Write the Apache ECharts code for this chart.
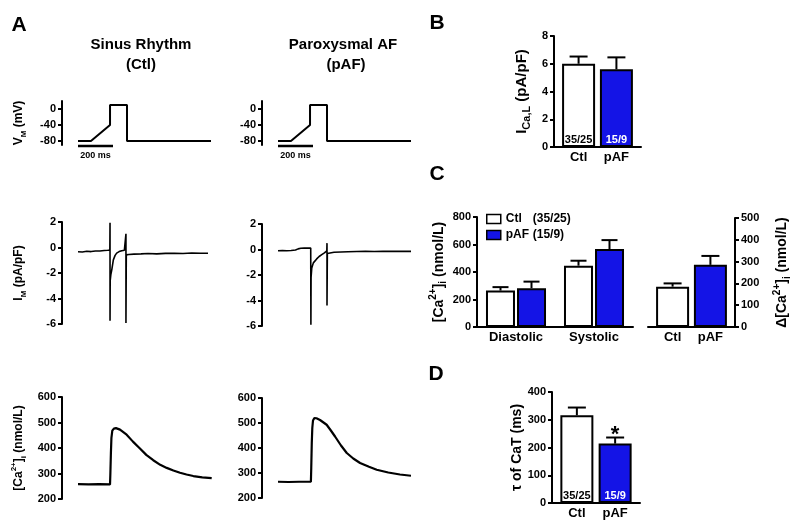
<!DOCTYPE html>
<html><head><meta charset="utf-8">
<script src="https://cdn.jsdelivr.net/npm/echarts@6/dist/echarts.min.js"></script>
<style>html,body{margin:0;padding:0;background:#fff}#c{width:800px;height:529px}</style>
</head><body><div id="c"></div>
<script>
const FONT = '"Liberation Sans", Arial, Helvetica, sans-serif';
const BLUE = '#1414e6';

// ---------- Panel A: voltage-clamp protocol (ms, mV) ----------
const protoT = [0, 74, 183, 183, 280, 280, 760];
const protoV = [-80, -80, -40, 10, 10, -80, -80];
const protoTicks = [-80, -40, 0];
const scaleBarMs = 200;

// ---------- Panel A: membrane current (ms, pA/pF) ----------
const ctlIT = [0, 25, 50, 75, 100, 125, 150, 170, 182, 183, 183, 184, 188, 193, 202, 212, 221, 235, 250, 265, 273, 274, 274, 276, 290, 320, 360, 400, 450, 500, 550, 600, 650, 700, 743];
const ctlI  = [-0.33, -0.35, -0.3, -0.32, -0.28, -0.27, -0.24, -0.22, -0.2, 1.95, -5.75, -2.6, -2.1, -1.75, -0.97, -0.62, -0.44, -0.32, -0.25, -0.21, -0.18, 1.07, -5.93, -0.58, -0.55, -0.52, -0.5, -0.47, -0.5, -0.46, -0.45, -0.47, -0.43, -0.45, -0.45];
const pafIT = [0, 25, 50, 75, 100, 115, 130, 150, 170, 187, 188, 189, 193, 202, 221, 235, 250, 265, 274, 279, 280, 280, 282, 290, 320, 360, 400, 450, 500, 550, 600, 650, 700, 760];
const pafI  = [-0.1, -0.08, -0.1, -0.08, -0.04, 0.05, 0.1, 0.12, 0.11, 0.12, -5.9, -2.2, -1.45, -1.05, -0.74, -0.55, -0.4, -0.26, -0.18, -0.1, 0.5, -4.4, -0.32, -0.28, -0.22, -0.2, -0.18, -0.16, -0.15, -0.16, -0.14, -0.15, -0.14, -0.15];

// ---------- Panel A: Ca transients (ms, nmol/L) ----------
const ctlCaT = [0, 60, 120, 183, 185, 188, 191, 196, 205, 217, 240, 278, 314, 354, 390, 430, 470, 507, 545, 583, 620, 659, 710, 764];
const ctlCa  = [258, 257, 258, 257, 300, 380, 440, 468, 476, 478, 472, 452, 425, 398, 373, 352, 334, 322, 312, 303, 296, 290, 285, 282];
const pafCaT = [0, 60, 120, 188, 190, 193, 196, 200, 208, 220, 240, 260, 278, 300, 326, 360, 393, 430, 469, 520, 564, 630, 697, 760];
const pafCa  = [265, 264, 265, 265, 320, 420, 480, 510, 520, 519, 512, 502, 493, 472, 446, 410, 380, 358, 340, 325, 313, 302, 294, 289];

// ---------- Panel B ----------
const groups = ['Ctl', 'pAF'];
const nLabels = ['35/25', '15/9'];
const icalMean = [6.0, 5.6];
const icalSem = [0.52, 0.86];

// ---------- Panel C ----------
const caPhases = ['Diastolic', 'Systolic'];
const caCtlMean = [265, 446];
const caCtlSem = [25, 36];
const caPafMean = [282, 567];
const caPafSem = [48, 65];
const dCaMean = [185, 285];
const dCaSem = [15, 41];

// ---------- Panel D ----------
const tauMean = [316, 214];
const tauSem = [28, 22];
const tauSig = ['', '*'];

// ---------- helpers ----------
const zip = (a, b) => a.map((v, i) => [v, b[i]]);
const rich = (size) => ({
  a: {fontSize: size, fontWeight: 'bold', fontFamily: FONT, color: '#000', lineHeight: size + 6},
  sub: {fontSize: Math.round(size * 0.7), fontWeight: 'bold', fontFamily: FONT, color: '#000', lineHeight: Math.round(size * 0.7) + 1, verticalAlign: 'bottom'},
  sup: {fontSize: Math.round(size * 0.7), fontWeight: 'bold', fontFamily: FONT, color: '#000', lineHeight: Math.round(size * 0.7) + 1, verticalAlign: 'top'}
});
const lbl = (size, extra) => Object.assign({color: '#000', fontFamily: FONT, fontWeight: 'bold', fontSize: size}, extra || {});

function yAx(gi, min, max, opts) {
  opts = opts || {};
  const ax = {
    gridIndex: gi, type: 'value', min: min, max: max,
    axisLine: {show: true, onZero: false, lineStyle: {color: '#000', width: 2}},
    axisTick: Object.assign({show: true, length: 4, lineStyle: {color: '#000', width: 2}}, opts.tick || {}),
    axisLabel: lbl(11, Object.assign({margin: 6}, opts.label || {})),
    splitLine: {show: false}
  };
  ['interval', 'offset', 'position', 'name', 'nameGap'].forEach(k => { if (opts[k] !== undefined) ax[k] = opts[k]; });
  if (opts.name) {
    ax.nameLocation = 'middle';
    ax.nameRotate = 90;
    ax.nameTextStyle = {rich: rich(opts.nameSize || 14)};
  }
  return ax;
}
const xHidden = gi => ({gridIndex: gi, type: 'value', min: 0, max: 800, show: false});
const xBars = gi => ({
  gridIndex: gi, type: 'value', min: 0.35, max: 2.65,
  axisLine: {show: true, onZero: false, lineStyle: {color: '#000', width: 2}},
  axisTick: {show: false}, splitLine: {show: false},
  axisLabel: lbl(13, {margin: 4, customValues: [1, 2], formatter: v => groups[Math.round(v) - 1]})
});
const trace = (gi, data, w) => ({
  type: 'line', xAxisIndex: gi, yAxisIndex: gi, data: data, symbol: 'none', silent: true,
  lineStyle: {color: '#000', width: w}, z: 3
});
function errSeries(gi, pts, offsetPx, capHalf, sig) {
  return {
    type: 'custom', xAxisIndex: gi, yAxisIndex: gi, data: pts, z: 4, silent: true,
    encode: {x: 0, y: 1},
    renderItem: (params, api) => {
      const x = api.value(0), m = api.value(1), e = api.value(2);
      const base = api.coord([x, m]);
      const top = api.coord([x, m + e]);
      const cx = base[0] + offsetPx;
      const children = [
        {type: 'line', shape: {x1: cx, y1: base[1], x2: cx, y2: top[1]}, style: {stroke: '#000', lineWidth: 2}},
        {type: 'line', shape: {x1: cx - capHalf, y1: top[1], x2: cx + capHalf, y2: top[1]}, style: {stroke: '#000', lineWidth: 2}}
      ];
      const s = sig && sig[params.dataIndex];
      if (s) children.push({type: 'text', style: {text: s, x: cx, y: top[1] - 3, align: 'center', verticalAlign: 'middle', font: 'bold 22px ' + FONT, fill: '#000'}});
      return {type: 'group', children: children};
    }
  };
}
function pairBars(gi, means) {
  return {
    type: 'bar', xAxisIndex: gi, yAxisIndex: gi, barWidth: 33, silent: true,
    data: means.map((v, i) => ({value: [i + 1, v], itemStyle: {color: i ? BLUE : '#fff'}, label: {color: i ? '#fff' : '#000'}})),
    itemStyle: {borderColor: '#000', borderWidth: 2}
  };
}
const nLabel = {show: true, position: 'insideBottom', distance: 2, formatter: p => nLabels[p.dataIndex], fontFamily: FONT, fontWeight: 'bold', fontSize: 11};

const grids = [
  {left: 78, top: 101, width: 140, height: 44},
  {left: 278, top: 101, width: 140, height: 44},
  {left: 78, top: 222, width: 140, height: 102},
  {left: 278, top: 224, width: 140, height: 102},
  {left: 78, top: 397, width: 140, height: 102},
  {left: 278, top: 398, width: 140, height: 100},
  {left: 554, top: 36, width: 87, height: 111},
  {left: 477, top: 217, width: 156, height: 110},
  {left: 648, top: 218, width: 87, height: 109},
  {left: 552, top: 392, width: 88, height: 111}
].map(g => Object.assign({outerBoundsMode: 'none', containLabel: false}, g));

const legendN = {Ctl: '(35/25)', pAF: '(15/9)'};

const option = {
  animation: false,
  backgroundColor: '#fff',
  grid: grids,
  xAxis: [
    xHidden(0), xHidden(1), xHidden(2), xHidden(3), xHidden(4), xHidden(5),
    xBars(6),
    {gridIndex: 7, type: 'category', data: caPhases,
     axisLine: {show: true, onZero: false, lineStyle: {color: '#000', width: 2}},
     axisTick: {show: false}, splitLine: {show: false}, axisLabel: lbl(13, {margin: 4})},
    xBars(8),
    xBars(9)
  ],
  yAxis: [
    yAx(0, -90, 20, {offset: 16, tick: {customValues: protoTicks}, label: {customValues: protoTicks}, name: '{a|V}{sub|M}{a| (mV)}', nameSize: 12, nameGap: 34}),
    yAx(1, -90, 20, {offset: 16, tick: {customValues: protoTicks}, label: {customValues: protoTicks}}),
    yAx(2, -6, 2, {interval: 2, offset: 16, name: '{a|I}{sub|M}{a| (pA/pF)}', nameSize: 12, nameGap: 34}),
    yAx(3, -6, 2, {interval: 2, offset: 16}),
    yAx(4, 200, 600, {interval: 100, offset: 16, name: '{a|[Ca}{sup|2+}{a|]}{sub|i}{a| (nmol/L)}', nameSize: 12, nameGap: 34}),
    yAx(5, 200, 600, {interval: 100, offset: 16}),
    yAx(6, 0, 8, {interval: 2, name: '{a|I}{sub|Ca,L}{a| (pA/pF)}', nameSize: 15, nameGap: 22}),
    yAx(7, 0, 800, {interval: 200, name: '{a|[Ca}{sup|2+}{a|]}{sub|i}{a| (nmol/L)}', nameSize: 14, nameGap: 28}),
    yAx(8, 0, 500, {interval: 100, position: 'right', name: '{a|\u0394[Ca}{sup|2+}{a|]}{sub|i}{a| (nmol/L)}', nameSize: 14, nameGap: 37}),
    yAx(9, 0, 400, {interval: 100, name: '{a|\u03c4 of CaT (ms)}', nameSize: 14, nameGap: 24})
  ],
  legend: {
    left: 481, top: 208, orient: 'vertical', itemWidth: 14, itemHeight: 9, itemGap: 4,
    selectedMode: false, icon: 'rect', data: ['Ctl', 'pAF'],
    itemStyle: {borderColor: '#000', borderWidth: 1.5},
    formatter: name => '{a|' + name + '}{b|' + legendN[name] + '}',
    textStyle: {rich: {
      a: {width: 27, fontFamily: FONT, fontWeight: 'bold', fontSize: 12, color: '#000', lineHeight: 14},
      b: {fontFamily: FONT, fontWeight: 'bold', fontSize: 12, color: '#000', lineHeight: 14}
    }}
  },
  series: [
    trace(0, zip(protoT, protoV), 2),
    trace(1, zip(protoT, protoV), 2),
    trace(2, zip(ctlIT, ctlI), 1.6),
    trace(3, zip(pafIT, pafI), 1.6),
    trace(4, zip(ctlCaT, ctlCa), 2.2),
    trace(5, zip(pafCaT, pafCa), 2.2),
    // B
    Object.assign(pairBars(6, icalMean), {label: nLabel}),
    errSeries(6, icalMean.map((m, i) => [i + 1, m, icalSem[i]]), 0, 9),
    // C left
    {type: 'bar', name: 'Ctl', xAxisIndex: 7, yAxisIndex: 7, data: caCtlMean, barWidth: 29, barGap: '7%', silent: true,
     itemStyle: {color: '#fff', borderColor: '#000', borderWidth: 2}},
    {type: 'bar', name: 'pAF', xAxisIndex: 7, yAxisIndex: 7, data: caPafMean, barWidth: 29, barGap: '7%', silent: true,
     itemStyle: {color: BLUE, borderColor: '#000', borderWidth: 2}},
    errSeries(7, caCtlMean.map((m, i) => [i, m, caCtlSem[i]]), -15.5, 8),
    errSeries(7, caPafMean.map((m, i) => [i, m, caPafSem[i]]), 15.5, 8),
    // C right
    pairBars(8, dCaMean),
    errSeries(8, dCaMean.map((m, i) => [i + 1, m, dCaSem[i]]), 0, 9),
    // D
    Object.assign(pairBars(9, tauMean), {label: nLabel}),
    errSeries(9, tauMean.map((m, i) => [i + 1, m, tauSem[i]]), 0, 9, tauSig)
  ],
  graphic: [
    {type: 'text', id: 'lA', x: 19, y: 25, style: {text: 'A', font: 'bold 21px ' + FONT, align: 'center', verticalAlign: 'middle', fill: '#000'}},
    {type: 'text', id: 'lB', x: 437, y: 23, style: {text: 'B', font: 'bold 21px ' + FONT, align: 'center', verticalAlign: 'middle', fill: '#000'}},
    {type: 'text', id: 'lC', x: 437, y: 174, style: {text: 'C', font: 'bold 21px ' + FONT, align: 'center', verticalAlign: 'middle', fill: '#000'}},
    {type: 'text', id: 'lD', x: 436, y: 374, style: {text: 'D', font: 'bold 21px ' + FONT, align: 'center', verticalAlign: 'middle', fill: '#000'}},
    {type: 'text', id: 't1', x: 141, y: 45, style: {text: 'Sinus Rhythm', font: 'bold 15px ' + FONT, align: 'center', verticalAlign: 'middle', fill: '#000'}},
    {type: 'text', id: 't2', x: 141, y: 65, style: {text: '(Ctl)', font: 'bold 15px ' + FONT, align: 'center', verticalAlign: 'middle', fill: '#000'}},
    {type: 'text', id: 't3', x: 343, y: 45, style: {text: 'Paroxysmal AF', font: 'bold 15px ' + FONT, align: 'center', verticalAlign: 'middle', fill: '#000'}},
    {type: 'text', id: 't4', x: 346, y: 65, style: {text: '(pAF)', font: 'bold 15px ' + FONT, align: 'center', verticalAlign: 'middle', fill: '#000'}}
  ]
};

const chart = echarts.init(document.getElementById('c'), null, {renderer: 'canvas'});
chart.setOption(option);

// 200 ms scale bars, placed through the time scale of each protocol grid
const sb = [];
[0, 1].forEach(gi => {
  const a = chart.convertToPixel({gridIndex: gi}, [0, -80]);
  const b = chart.convertToPixel({gridIndex: gi}, [scaleBarMs, -80]);
  sb.push({type: 'line', id: 'sb' + gi, shape: {x1: a[0], y1: 146, x2: b[0], y2: 146}, style: {stroke: '#000', lineWidth: 2.5}});
  sb.push({type: 'text', id: 'sbt' + gi, x: (a[0] + b[0]) / 2, y: 156, style: {text: scaleBarMs + ' ms', font: 'bold 9px ' + FONT, align: 'center', verticalAlign: 'middle', fill: '#000'}});
});
chart.setOption({graphic: sb});
</script>
</body></html>
